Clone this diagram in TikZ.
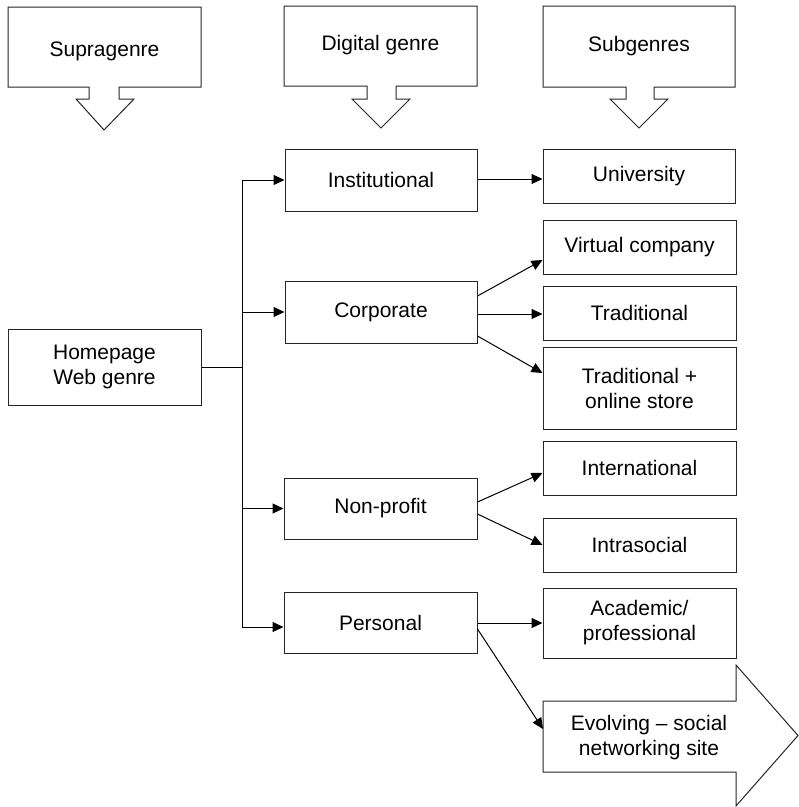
\documentclass[tikz,border=0pt]{standalone}
\usepackage{fontspec}
\setmainfont{Liberation Sans}
\usetikzlibrary{arrows.meta}
\begin{document}
\begin{tikzpicture}[x=1pt,y=-1pt,
  every node/.style={font=\fontsize{21pt}{25pt}\selectfont, align=center, inner sep=0pt},
  box/.style={draw=black!85, line width=1pt, fill=white},
  label/.style={},
  outline/.style={draw=black!85, line width=1pt, line join=miter},
  link/.style={draw=black, line width=1pt, -{Triangle[length=11pt,width=10pt]}},
  wire/.style={draw=black, line width=1pt}]
\useasboundingbox (0,0) rectangle (799,807);

% column headers: boxes with a downward block arrow
\draw[outline] (8,7) -- (201,7) -- (201,87) -- (119,87) -- (119,99) -- (134,99)
  -- (104,130) -- (76,99) -- (89,99) -- (89,87) -- (8,87) -- cycle;
\node[label] (supra) at (104.5,51) {Supragenre};

\draw[outline] (284,6) -- (477,6) -- (477,86) -- (396,86) -- (396,99) -- (410,99)
  -- (381,128) -- (352,99) -- (367,99) -- (367,86) -- (284,86) -- cycle;
\node[label] (digital) at (380.5,45) {Digital genre};

\draw[outline] (543,6) -- (735,6) -- (735,87) -- (654,87) -- (654,99) -- (668,99)
  -- (639,128) -- (610,99) -- (626,99) -- (626,87) -- (543,87) -- cycle;
\node[label] (sub) at (639,46) {Subgenres};

% supragenre
\node[box, minimum width=193pt, minimum height=76pt] (home) at (104.5,367) {Homepage\\Web genre};

% digital genres
\node[box, minimum width=192pt, minimum height=62pt] (inst) at (381,180) {Institutional};
\node[box, minimum width=192pt, minimum height=62pt] (corp) at (381,312) {Corporate};
\node[box, minimum width=193pt, minimum height=61pt] (nonp) at (380.5,508.5) {Non-profit};
\node[box, minimum width=193pt, minimum height=61pt] (pers) at (380.5,622.5) {Personal};

% subgenres
\node[box, minimum width=192pt, minimum height=54pt] (univ) at (639,176) {University};
\node[box, minimum width=193pt, minimum height=54pt] (virt) at (639.5,247) {Virtual company};
\node[box, minimum width=193pt, minimum height=54pt] (trad) at (639.5,313) {Traditional};
\node[box, minimum width=193pt, minimum height=82pt] (tros) at (639.5,388) {Traditional +\\online store};
\node[box, minimum width=193pt, minimum height=54pt] (intl) at (639.5,468) {International};
\node[box, minimum width=193pt, minimum height=54pt] (intr) at (639.5,545) {Intrasocial};
\node[box, minimum width=193pt, minimum height=70pt] (acad) at (639.5,623) {Academic/\\professional};

% evolving subgenre drawn as a block arrow
\draw[outline] (543,701) -- (736,701) -- (736,665) -- (798,735.5) -- (736,806)
  -- (736,772) -- (543,772) -- cycle;
\node[label] (evol) at (649,738) {Evolving -- social\\networking site};
\coordinate (evolin) at (543,729);

% bus from the supragenre to the digital genres
\coordinate (bus) at (242,367);
\coordinate (bustop) at (242,180);
\coordinate (busbot) at (242,627);
\draw[wire] (home.east) -- (bus);
\draw[wire] (bustop) -- (busbot);
\draw[link] (bustop) -- (inst.west |- bustop);
\draw[link] (242,312) -- (corp.west);
\draw[link] (242,508.5) -- (nonp.west);
\draw[link] (busbot) -- (pers.west |- busbot);

% digital genres to subgenres
\draw[link] (inst.east |- 0,179) -- (univ.west |- 0,179);
\draw[link] (corp.east |- 0,296) -- (virt.west |- 0,260);
\draw[link] (corp.east |- 0,314) -- (trad.west |- 0,314);
\draw[link] (corp.east |- 0,336) -- (tros.west |- 0,373);
\draw[link] (nonp.east |- 0,502) -- (intl.west |- 0,473);
\draw[link] (nonp.east |- 0,514) -- (intr.west |- 0,545);
\draw[link] (pers.east |- 0,623) -- (acad.west |- 0,623);
\draw[link] (pers.east |- 0,629) -- (evolin);
\end{tikzpicture}
\end{document}
